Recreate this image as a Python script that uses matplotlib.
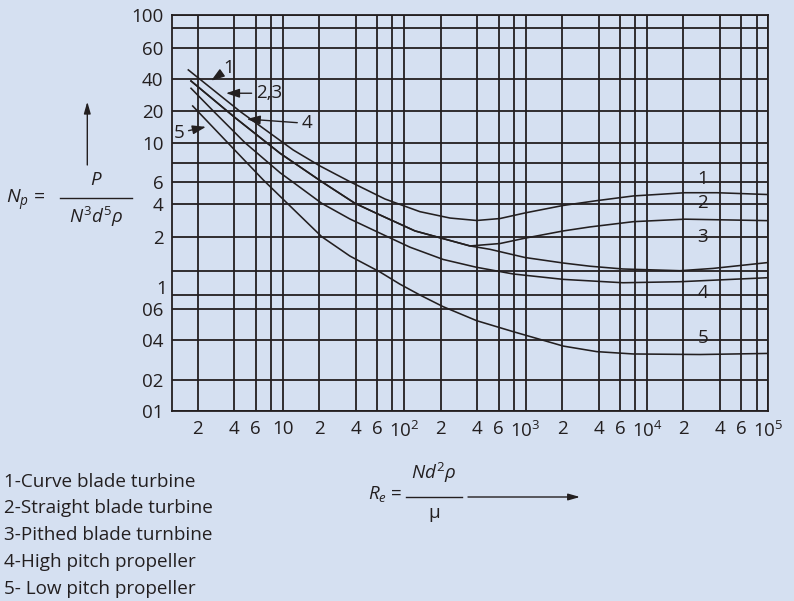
import numpy as np
import matplotlib.pyplot as plt
from matplotlib.lines import Line2D
from matplotlib.ticker import NullLocator

plt.rcParams['font.family'] = ['Open Sans', 'DejaVu Sans']
plt.rcParams['mathtext.fontset'] = 'custom'
plt.rcParams['mathtext.rm'] = 'Open Sans'
plt.rcParams['mathtext.it'] = 'Open Sans:italic'
plt.rcParams['mathtext.bf'] = 'Open Sans:bold'

BG = '#d5e0f1'
INK = '#231f20'
W, H = 794, 601

# Power number Np vs Reynolds number Re
re_1 = [1.669, 4.45, 12.2, 20.3, 35.8, 69.6, 135, 239, 396, 617, 991, 2048, 3860, 7727, 20600, 37800, 100000]
np_1 = [45.0, 19.7, 9.22, 7.61, 6.0, 4.38, 3.40, 2.97, 2.82, 2.94, 3.31, 3.88, 4.25, 4.63, 4.91, 4.91, 4.75]

# curves 2 and 3 run together up to Re ~ 350
re_23 = [1.757, 4.085, 9.50, 20.96, 39.4, 63.3, 123, 349]
np_23 = [38.3, 17.07, 8.89, 6.0, 4.05, 3.17, 2.26, 1.76]

re_2 = re_23 + [617, 991, 2048, 3396, 7727, 20600, 100000]
np_2 = np_23 + [1.82, 1.96, 2.26, 2.46, 2.75, 2.90, 2.81]

re_3 = re_23 + [510, 991, 2048, 3396, 6350, 18740, 35040, 100000]
np_3 = np_23 + [1.68, 1.50, 1.39, 1.33, 1.28, 1.25, 1.29, 1.40]

re_4 = [1.757, 2.68, 4.89, 9.50, 11.48, 20.96, 35.8, 69.6, 111.8, 210, 396, 793, 2048, 6350, 18740, 100000]
np_4 = [32.65, 19.87, 10.0, 6.88, 6.16, 4.05, 2.91, 2.05, 1.73, 1.46, 1.31, 1.195, 1.11, 1.06, 1.075, 1.136]

re_5 = [1.814, 3.54, 6.92, 11.06, 20.96, 35.8, 63.3, 92.5, 135, 210, 396, 793, 2048, 3860, 7727, 27380, 100000]
np_5 = [22.17, 9.97, 6.16, 4.0, 2.0, 1.53, 1.228, 1.039, 0.8, 0.629, 0.515, 0.446, 0.360, 0.327, 0.314, 0.311, 0.317]

curves = [(re_1, np_1), (re_2, np_2), (re_3, np_3), (re_4, np_4), (re_5, np_5)]

# axis ticks / labels
x_ticks = [2, 4, 6, 8, 10, 20, 40, 60, 80, 100, 200, 400, 600, 800, 1000,
           2000, 4000, 6000, 8000, 10000, 20000, 40000, 60000, 80000, 100000]
x_labels = ['2', '4', '6', '', '10', '2', '4', '6', '', '10$^2$', '2', '4', '6', '', '10$^3$',
            '2', '4', '6', '', '10$^4$', '2', '4', '6', '', '10$^5$']
y_ticks = [100, 80, 60, 40, 20, 10, 8, 6, 4, 2, 1.25, 0.8, 0.6, 0.4, 0.2, 0.1]
y_labels = ['100', '', '60', '40', '20', '10', '', '6', '4', '2', '', '', '06', '04', '02', '01']

legend_lines = ['1-Curve blade turbine', '2-Straight blade turbine', '3-Pithed blade turnbine',
                '4-High pitch propeller', '5- Low pitch propeller']

# the printed y axis is not evenly logarithmic: map values onto the drawn grid
scale_vals = [0.1, 0.2, 0.4, 0.6, 0.8, 1, 1.25, 2, 4, 6, 8, 10, 20, 40, 60, 80, 100]
scale_pix = [410.7, 380, 340, 309, 295, 287, 270.7, 236.7, 204, 181.7, 162.7, 142.7,
             110.7, 79, 47.7, 28.3, 15]
log_v = np.log10(scale_vals)
pix = np.array(scale_pix)


def fwd(v):
    v = np.clip(np.asarray(v, dtype=float), 1e-6, None)
    return -np.interp(np.log10(v), log_v, pix)


def inv(y):
    return 10 ** np.interp(-np.asarray(y, dtype=float), pix[::-1], log_v[::-1])


def fx(px):
    return px / W


def fy(py):
    return 1 - py / H


fig = plt.figure(figsize=(W / 100, H / 100), dpi=100, facecolor=BG)
ax = fig.add_axes([fx(171.7), fy(410.7), (768.3 - 171.7) / W, (410.7 - 15) / H])
ax.set_facecolor(BG)
ax.set_xscale('log')
ax.set_yscale('function', functions=(fwd, inv))
ax.set_xlim(1.218, 1e5)
ax.set_ylim(0.1, 100)

ax.set_xticks(x_ticks, labels=x_labels)
ax.xaxis.set_minor_locator(NullLocator())
ax.set_yticks(y_ticks, labels=y_labels)
ax.set_yticks([1], labels=['1'], minor=True)
ax.tick_params(axis='both', which='both', length=0, labelsize=13.5, colors=INK)
ax.tick_params(axis='x', pad=7)
ax.tick_params(axis='y', pad=6)
ax.grid(True, which='major', color=INK, lw=1.3)
ax.set_axisbelow(True)
for s in ax.spines.values():
    s.set_color(INK)
    s.set_linewidth(1.3)

for re_v, np_v in curves:
    ax.plot(re_v, np_v, color=INK, lw=1.15, zorder=3)

# curve numbers on the right
for lab, yv in zip(['1', '2', '3', '4', '5'], [6.25, 4.05, 2.0, 0.84, 0.409]):
    ax.text(28800, yv, lab, ha='center', va='center', fontsize=13.5, color=INK, zorder=4)

arw = dict(arrowstyle='-|>,head_length=0.6,head_width=0.2', color=INK, lw=1.0,
           shrinkA=1, shrinkB=0)
ax.annotate('1', xy=(2.57, 38.5), xytext=(3.61, 46.1), ha='center', va='center',
            fontsize=13.5, color=INK, arrowprops=arw)
ax.annotate('2,3', xy=(3.41, 29.3), xytext=(6.0, 29.3), ha='left', va='center',
            fontsize=13.5, color=INK, arrowprops=arw)
ax.annotate('4', xy=(5.05, 16.7), xytext=(15.8, 15.2), ha='center', va='center',
            fontsize=13.5, color=INK, arrowprops=arw)
ax.annotate('5', xy=(2.33, 14.1), xytext=(1.40, 12.4), ha='center', va='center',
            fontsize=13.5, color=INK, arrowprops=arw)

# y-axis quantity
fig.text(fx(6), fy(200), r'$N_p$ =', fontsize=14, color=INK, ha='left', va='center')
fig.add_artist(Line2D([fx(60), fx(131.7)], [fy(198.3), fy(198.3)], color=INK, lw=1.0))
fig.text(fx(96), fy(180), r'$P$', fontsize=13.5, color=INK, ha='center', va='center')
fig.text(fx(96), fy(217), r'$N^3d^5\rho$', fontsize=13.5, color=INK, ha='center', va='center')
up = dict(arrowstyle='-|>,head_length=0.7,head_width=0.2', color=INK, lw=1.0,
          shrinkA=0, shrinkB=0)
ax.annotate('', xy=(fx(87.3), fy(101.7)), xycoords='figure fraction',
            xytext=(fx(87.3), fy(165)), textcoords='figure fraction', arrowprops=up)

# x-axis quantity
fig.text(fx(402), fy(494), r'$R_e$ =', fontsize=13.5, color=INK, ha='right', va='center')
fig.add_artist(Line2D([fx(406), fx(462)], [fy(497), fy(497)], color=INK, lw=1.0))
fig.text(fx(434), fy(473), r'$Nd^2\rho$', fontsize=13.5, color=INK, ha='center', va='center')
fig.text(fx(434), fy(513), 'μ', fontsize=13.5, color=INK, ha='center', va='center')
ax.annotate('', xy=(fx(580), fy(497)), xycoords='figure fraction',
            xytext=(fx(468), fy(497)), textcoords='figure fraction', arrowprops=up)

for i, line in enumerate(legend_lines):
    fig.text(fx(4), fy(481.7 + 26.7 * i), line, fontsize=13.6, color=INK, ha='left', va='center')

fig.savefig('out.png', dpi=100, facecolor=BG)
